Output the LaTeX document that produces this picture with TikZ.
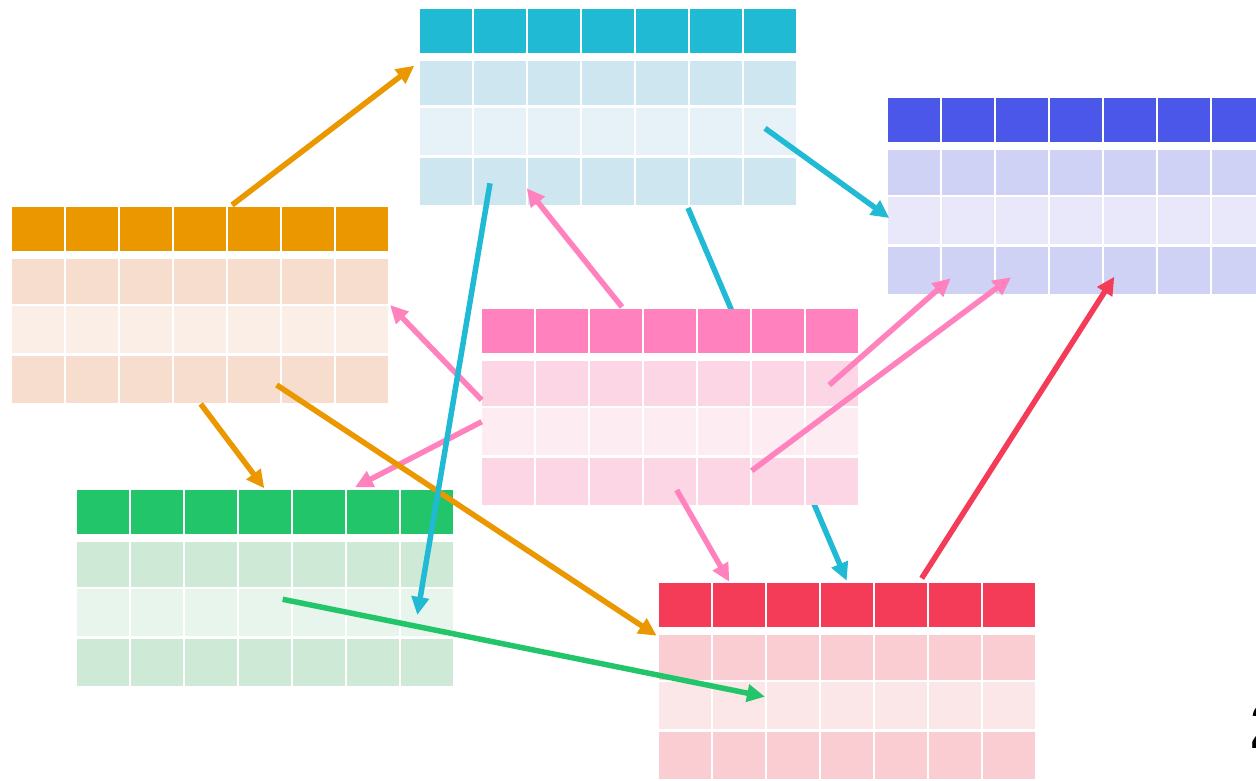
\documentclass[tikz,border=0pt]{standalone}
\usepackage{fontspec}
\newfontfamily\labelfont{Liberation Sans}
\usetikzlibrary{arrows.meta}

% header / body colours of the six tables
\definecolor{cyanH}{HTML}{20BAD4}\definecolor{cyanA}{HTML}{CDE6EF}\definecolor{cyanB}{HTML}{E6F2F7}
\definecolor{orngH}{HTML}{EA9700}\definecolor{orngA}{HTML}{F6DDCD}\definecolor{orngB}{HTML}{FBEEE6}
\definecolor{indgH}{HTML}{4B57E8}\definecolor{indgA}{HTML}{D0D2F5}\definecolor{indgB}{HTML}{E8E8FA}
\definecolor{pinkH}{HTML}{FF82BE}\definecolor{pinkA}{HTML}{FDD6E5}\definecolor{pinkB}{HTML}{FDECF2}
\definecolor{redH}{HTML}{F43B57}\definecolor{redA}{HTML}{F9CDD2}\definecolor{redB}{HTML}{FBE6E8}
\definecolor{grnH}{HTML}{22C56A}\definecolor{grnA}{HTML}{CEEAD6}\definecolor{grnB}{HTML}{E7F5EC}

\tikzset{
  tablebox/.style={fill=white,inner sep=0pt,outer sep=0pt,
    minimum width=376pt,minimum height=196pt,anchor=north west},
  link/.style={line width=5.5pt,-{Triangle[length=18pt,width=17pt]}},
}

% one table: 7 columns, a header row and three body rows on white
% #1 name, #2 x, #3 y, #4 header, #5 body, #6 middle body row
\newcommand\gridtable[6]{%
  \node[tablebox] (#1) at (#2,#3) {};
  \foreach \i in {0,...,6}{
    \fill[#4] ({#2+54*\i},#3)       rectangle ++(51.5,44);
    \fill[#5] ({#2+54*\i},{#3+52})   rectangle ++(51.5,44.5);
    \fill[#6] ({#2+54*\i},{#3+99.3}) rectangle ++(51.5,47);
    \fill[#5] ({#2+54*\i},{#3+149})  rectangle ++(51.5,47);
  }%
}

\begin{document}
\begin{tikzpicture}[x=1pt,y=-1pt]
\useasboundingbox (0,0) rectangle (1256,781);
\clip (0,0) rectangle (1256,781);

\gridtable{cyantab}{420}{9}{cyanH}{cyanA}{cyanB}
\gridtable{orngtab}{12}{207}{orngH}{orngA}{orngB}
\gridtable{indgtab}{888}{98}{indgH}{indgA}{indgB}
\gridtable{grntab}{77}{490}{grnH}{grnA}{grnB}
\gridtable{redtab}{659}{583}{redH}{redA}{redB}

% connector end points
\coordinate (c2r-s) at (688,208);   \coordinate (c2r-t) at (846.7,580.7);
\coordinate (c2i-s) at (765,128.3); \coordinate (c2i-t) at (889.3,218);
\coordinate (c2g-s) at (490,183.3); \coordinate (c2g-t) at (417.3,615);
\coordinate (o2c-s) at (232,205);   \coordinate (o2c-t) at (414.3,65.7);
\coordinate (o2g-s) at (200.7,404); \coordinate (o2g-t) at (264.3,488.3);
\coordinate (o2r-s) at (276.7,385); \coordinate (o2r-t) at (656.7,635.7);
\coordinate (p2c-s) at (622,307);   \coordinate (p2c-t) at (526.7,188.3);
\coordinate (p2o-s) at (481.7,400); \coordinate (p2o-t) at (390,305);
\coordinate (p2g-s) at (481.7,421.7); \coordinate (p2g-t) at (355,487.3);
\coordinate (p2i-s) at (829.3,385); \coordinate (p2i-t) at (950.7,278.3);
\coordinate (p2j-s) at (751.7,470.7); \coordinate (p2j-t) at (1011,277.3);
\coordinate (p2r-s) at (676.7,490); \coordinate (p2r-t) at (729.3,581.7);
\coordinate (r2i-s) at (921.7,578.3); \coordinate (r2i-t) at (1114.3,276.7);
\coordinate (g2r-s) at (282.7,599.3); \coordinate (g2r-t) at (765,696.7);

% this link runs behind the pink table
\draw[link,cyanH] (c2r-s) -- (c2r-t);

\gridtable{pinktab}{482}{309}{pinkH}{pinkA}{pinkB}

\draw[link,pinkH] (p2c-s) -- (p2c-t);
\draw[link,pinkH] (p2o-s) -- (p2o-t);
\draw[link,pinkH] (p2g-s) -- (p2g-t);
\draw[link,pinkH] (p2i-s) -- (p2i-t);
\draw[link,pinkH] (p2j-s) -- (p2j-t);
\draw[link,pinkH] (p2r-s) -- (p2r-t);

\draw[link,orngH] (o2c-s) -- (o2c-t);
\draw[link,orngH] (o2g-s) -- (o2g-t);
\draw[link,orngH] (o2r-s) -- (o2r-t);

\draw[link,grnH] (g2r-s) -- (g2r-t);
\draw[link,redH] (r2i-s) -- (r2i-t);

\draw[link,cyanH] (c2i-s) -- (c2i-t);
\draw[link,cyanH] (c2g-s) -- (c2g-t);

\node[anchor=base west,inner sep=0pt,font=\labelfont\bfseries\fontsize{64}{64}\selectfont] (pagenum) at (1250,748) {2};
\end{tikzpicture}
\end{document}
